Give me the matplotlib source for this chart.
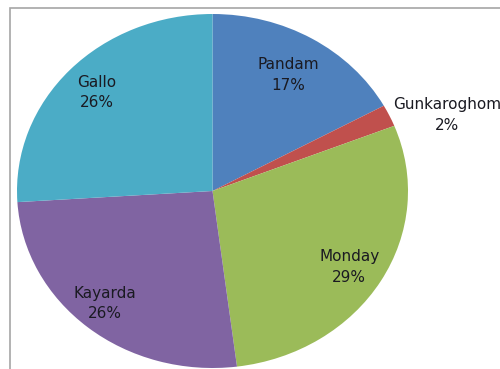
import matplotlib
matplotlib.use("Agg")
import matplotlib.pyplot as plt
from matplotlib.patches import Rectangle

# Données du camembert (sens horaire depuis le haut)
labels = ["Pandam", "Gunkaroghom", "Monday", "Kayarda", "Gallo"]
shares = [17, 2, 29, 26, 26]
colors = ["#4F81BD", "#C0504D", "#9BBB59", "#8064A2", "#4BACC6"]

# positions des étiquettes (coord. de l'axe, rayon 1 = bord)
label_xy = [(0.39, 0.655), (1.20, 0.43), (0.70, -0.43), (-0.55, -0.635), (-0.59, 0.555)]

fig = plt.figure(figsize=(5, 3.69), dpi=100)

# cadre de la zone du graphique (coupé à droite et en bas)
fig.patches.append(Rectangle((10 / 500, -0.1), 1.2, 1 - 8 / 369 + 0.1,
                             transform=fig.transFigure, fill=False,
                             edgecolor="#A6A6A6", linewidth=1.2))

ax = fig.add_axes([17 / 500, 1 / 369, 391 / 500, 354 / 369])
ax.pie(shares, colors=colors, startangle=90, counterclock=False,
       wedgeprops=dict(linewidth=0))
ax.set_aspect("auto")
ax.set_xlim(-1, 1)
ax.set_ylim(-1, 1)
ax.axis("off")

for lab, val, (x, y) in zip(labels, shares, label_xy):
    ax.text(x, y, f"{lab}\n{val}%", ha="center", va="center",
            fontsize=11, color="#1A1A22", linespacing=1.45,
            clip_on=False)

fig.savefig("out.png", dpi=100)
